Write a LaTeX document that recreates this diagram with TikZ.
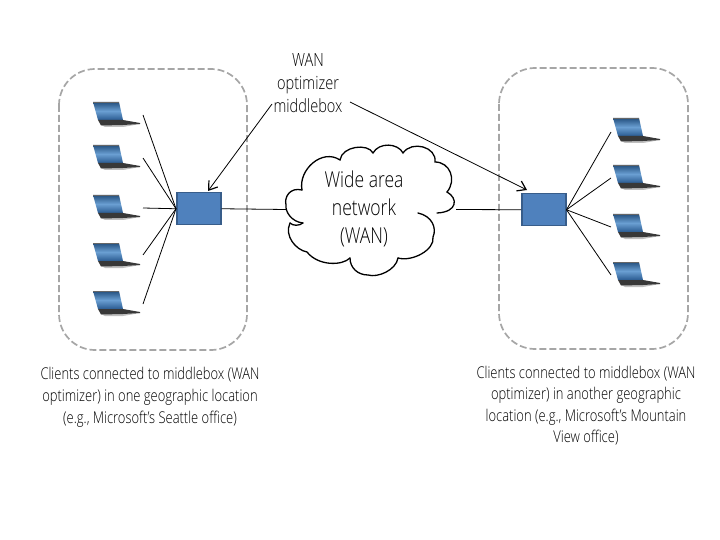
\documentclass[tikz,border=0pt]{standalone}
\usepackage{fontspec}
\setmainfont[FakeStretch=0.80]{Open Sans Light}
\usetikzlibrary{arrows.meta}
\definecolor{boxfill}{HTML}{4F81BD}
\definecolor{boxedge}{HTML}{385D8A}
\definecolor{dashgray}{HTML}{A6A6A6}
\definecolor{scrtop}{HTML}{24507F}
\definecolor{scrmid}{HTML}{6A9FD2}
\definecolor{scrbot}{HTML}{2A5A90}
\tikzset{
  x=1pt,y=-1pt,
  group/.style={draw=dashgray,line width=1.7pt,dash pattern=on 7pt off 3pt,rounded corners=36pt},
  mbox/.style={draw=boxedge,line width=1.5pt,fill=boxfill,minimum width=44pt,minimum height=32pt,inner sep=0pt,anchor=north west},
  link/.style={draw=black,line width=0.8pt},
  callout/.style={draw=black,line width=0.8pt,-{Straight Barb[length=8pt,width=11pt,line width=1.2pt]}},
  captext/.style={font=\fontsize{16.2}{22}\selectfont,align=center,text=black,inner sep=0pt},
  wantext/.style={font=\fontsize{21.9}{28}\selectfont,align=center,text=black,inner sep=0pt},
  laptop/.pic={
    \shade[top color=scrtop,bottom color=scrbot,middle color=scrmid]
      (0,0) -- (26,0) -- (30,18) -- (5,18) -- cycle;
    \draw[black!60,line width=0.4pt] (0,0) -- (26,0);
    \fill[black!25] (8,23) -- (47,22) -- (30,25) -- (12,25) -- cycle;
    \fill[black!78] (5,18) -- (30,18) -- (47,21) -- (47,22) -- (30,23) -- (8,23.5) -- cycle;
  }
}
\begin{document}
\begin{tikzpicture}
\useasboundingbox (0,0) rectangle (720,540);
\path[group] (59,69) rectangle (247,350);
\path[group] (499,68) rectangle (688,349);

% laptops
\foreach \n/\y in {1/102,2/145,3/195,4/243,5/291} \pic at (93,\y) {laptop};
\foreach \n/\y in {1/118,2/165,3/214,4/262} \pic at (613,\y) {laptop};

% connector ends
\coordinate (la) at (143,115);
\coordinate (lb) at (143,158);
\coordinate (lc) at (143,208);
\coordinate (ld) at (143,255);
\coordinate (le) at (143,304);
\coordinate (ra) at (611,132);
\coordinate (rb) at (611,178);
\coordinate (rc) at (611,227);
\coordinate (rd) at (611,275);
\coordinate (cl) at (286,209.5);
\coordinate (cr) at (456,209.5);

\node[mbox] (mbl) at (176,192) {};
\node[mbox] (mbr) at (521,193) {};

\foreach \c in {la,lb,lc,ld,le} \draw[link] (\c) -- (mbl.west);
\foreach \c in {ra,rb,rc,rd} \draw[link] (\c) -- (mbr.east);
\draw[link] (mbl.east) -- (cl);
\draw[link] (mbr.west) -- (cr);

% cloud (pixel coordinates)
\begin{scope}[line width=1.3pt,line cap=round]
\fill[white] (302,190) -- (340,160) -- (405,155) -- (447,192) -- (450,225) -- (400,258) -- (350,260) -- (305,250) -- (288,210) -- cycle;
\draw (302,190) .. controls (298,170) and (322,148) .. (340,160)
  .. controls (342,146) and (368,143) .. (373,153)
  .. controls (379,142) and (398,143) .. (403,153)
  .. controls (412,140) and (437,147) .. (435,162)
  .. controls (450,162) and (457,180) .. (447,192)
  .. controls (458,198) and (458,212) .. (437,213);
\draw (418,213) .. controls (432,216) and (437,228) .. (433,237)
  .. controls (435,250) and (412,262) .. (398,258);
\draw (398,258) .. controls (396,270) and (378,278) .. (368,275)
  .. controls (358,275) and (350,268) .. (350,258);
\draw (350,258) .. controls (342,266) and (318,266) .. (307,252)
  .. controls (296,250) and (284,236) .. (290,223);
\draw (290,223) .. controls (293,226) and (299,226) .. (303,223);
\draw (303,223) .. controls (292,222) and (285,212) .. (286,205)
  .. controls (284,197) and (290,187) .. (302,190);
\end{scope}
\node[wantext] (cloudtext) at (364,208.5) {Wide area\\network\\(WAN)};

\node[captext,font=\fontsize{18.2}{23}\selectfont] (wanlabel) at (308,83.5) {WAN\\optimizer\\middlebox};
\coordinate (sa) at (272,104);
\coordinate (sb) at (350,102);
\coordinate (ta) at (208,191);
\coordinate (tb) at (527,190);
\draw[callout] (sa) -- (ta);
\draw[callout] (sb) -- (tb);

\node[captext] (capl) at (150,397) {Clients connected to middlebox (WAN\\optimizer) in one geographic location\\(e.g., Microsoft’s Seattle office)};
\node[captext,font=\fontsize{16.2}{21.5}\selectfont] (capr) at (586,405.5) {Clients connected to middlebox (WAN\\optimizer) in another geographic\\location (e.g., Microsoft’s Mountain\\View office)};
\end{tikzpicture}
\end{document}
